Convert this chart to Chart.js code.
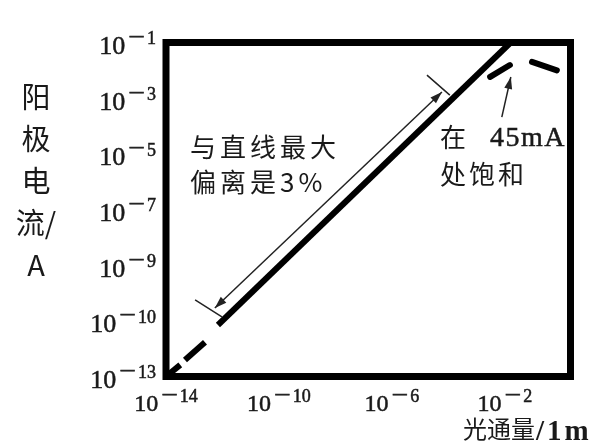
<!DOCTYPE html>
<html>
<head>
<meta charset="utf-8">
<script src="https://cdn.jsdelivr.net/npm/chart.js@4/dist/chart.umd.min.js"></script>
<style>
  html, body { margin: 0; padding: 0; background: #fff; }
  #wrap { width: 600px; height: 448px; }
</style>
</head>
<body>
<div id="wrap"><canvas id="pmtChart" width="600" height="448"></canvas></div>
<script>
// PMT response: anode current (A) vs luminous flux (lm), log-log
var linearX = [6.9e-13, 1.6e-2];
var linearY = [7.1e-12, 1e-1];

// dashed low-flux part, one sub-array per dash
var lowDashX = [[2.4e-13, 4.7e-14], [3.2e-14, 1e-14]];
var lowDashY = [[1.7e-12, 3.9e-13], [2.6e-13, 1e-13]];

// saturation dashes near 45 mA
var satDashX = [[3.0e-3, 1.5e-2], [9.1e-2, 0.69]];
var satDashY = [[5.8e-3, 1.55e-2], [2.0e-2, 1.0e-2]];

var xTickExps = [-14, -10, -6, -2];
var xTickText = ['-14', '-10', '-6', '-2'];
var yTickExps = [-13, -11, -9, -7, -5, -3, -1];
var yTickText = ['-13', '-10', '-9', '-7', '-5', '-3', '-1']; // printed as in the figure

var yTitleChars = ['阳', '极', '电', '流/', 'A'];

(function(){
  var SERIF = '"Liberation Serif", "Times New Roman", serif';
  var CJK = '"Noto Sans CJK SC", "Noto Sans", sans-serif';
  var INK = '#1a1a1a';

  function pts(xs, ys){
    return xs.map(function(x, i){ return { x: x, y: ys[i] }; });
  }

  function seg(xs, ys, cap){
    return { data: pts(xs, ys), borderColor: '#000', borderWidth: 6, pointRadius: 0, borderCapStyle: cap, fill: false, tension: 0, clip: false };
  }

  // fill + hairline stroke so the serif text is as heavy as the scan
  function ink(ctx, s, x, y){
    ctx.fillText(s, x, y);
    ctx.lineWidth = 0.5; ctx.strokeStyle = INK; ctx.strokeText(s, x, y);
  }

  // "10" with a raised exponent; x is centre or right edge, y is middle of the "10"
  function drawPow(ctx, expText, x, y, align, size){
    var neg = expText.charAt(0) === '-';
    var digits = neg ? expText.slice(1) : expText;
    var MS = 1.35; // minus is drawn wide, like the typeset one
    ctx.font = size + 'px ' + SERIF; var wb = ctx.measureText('10').width;
    ctx.font = '22px ' + SERIF; var wm = neg ? ctx.measureText('\u2212').width * MS : 0;
    ctx.font = '18px ' + SERIF; var wd = ctx.measureText(digits).width;
    var total = wb + 3 + wm + 2 + wd;
    var x0 = align === 'right' ? x - total : x - total / 2;
    var sy = y - 7;
    ctx.textAlign = 'left'; ctx.textBaseline = 'alphabetic'; ctx.fillStyle = INK;
    ctx.font = size + 'px ' + SERIF; ink(ctx, '10', x0, y + 0.33 * size);
    if (neg) {
      ctx.save();
      ctx.translate(x0 + wb + 3, sy + 0.25 * 22);
      ctx.scale(MS, 1);
      ctx.font = '22px ' + SERIF; ink(ctx, '\u2212', 0, 0);
      ctx.restore();
    }
    ctx.font = '18px ' + SERIF; ink(ctx, digits, x0 + wb + 3 + wm + 2, sy + 0.33 * 18);
  }

  function txt(ctx, s, x, y, font, spacing, base){
    ctx.font = font; ctx.letterSpacing = (spacing || 0) + 'px';
    ctx.textAlign = 'left'; ctx.textBaseline = base || 'middle'; ctx.fillStyle = INK;
    ctx.fillText(s, x, y);
    ctx.letterSpacing = '0px';
  }

  function head(ctx, fx, fy, tx, ty){
    var a = Math.atan2(ty - fy, tx - fx), L = 12, W = 4;
    ctx.beginPath();
    ctx.moveTo(tx, ty);
    ctx.lineTo(tx - L * Math.cos(a) + W * Math.sin(a), ty - L * Math.sin(a) - W * Math.cos(a));
    ctx.lineTo(tx - L * Math.cos(a) - W * Math.sin(a), ty - L * Math.sin(a) + W * Math.cos(a));
    ctx.closePath(); ctx.fill();
  }

  var decor = {
    id: 'decor',
    afterDraw: function(chart){
      var ctx = chart.ctx, ca = chart.chartArea;
      var xs = chart.scales.x, ys = chart.scales.y;
      function P(lx, ly){ return [xs.getPixelForValue(Math.pow(10, lx)), ys.getPixelForValue(Math.pow(10, ly))]; }
      ctx.save();

      // frame
      ctx.strokeStyle = '#000'; ctx.lineWidth = 7; ctx.lineJoin = 'miter';
      ctx.strokeRect(ca.left, ca.top, ca.right - ca.left, ca.bottom - ca.top);

      // tick labels
      xTickExps.forEach(function(e, i){ drawPow(ctx, xTickText[i], xs.getPixelForValue(Math.pow(10, e)), 403, 'center', 24); });
      yTickExps.forEach(function(e, i){ drawPow(ctx, yTickText[i], 156, ys.getPixelForValue(Math.pow(10, e)) + 3, 'right', 26); });

      // axis titles
      ctx.fillStyle = INK; ctx.textAlign = 'center'; ctx.textBaseline = 'middle';
      ctx.font = '29px ' + CJK;
      yTitleChars.forEach(function(c, i){ ctx.fillText(c, 36, 97 + i * 42); });
      txt(ctx, '光通量', 463, 429, '24px ' + CJK, 0);
      ctx.font = '24px ' + CJK; var w = ctx.measureText('光通量').width;
      txt(ctx, '/1m', 463 + w + 1, 440, 'bold 29px ' + SERIF, 3, 'alphabetic');

      // double arrow along the linear range, with end bars
      ctx.strokeStyle = '#222'; ctx.fillStyle = '#222'; ctx.lineWidth = 1.5;
      var a = P(-12.27, -10.54), b = P(-4.23, -2.78);
      ctx.beginPath(); ctx.moveTo(a[0], a[1]); ctx.lineTo(b[0], b[1]); ctx.stroke();
      head(ctx, b[0], b[1], a[0], a[1]); head(ctx, a[0], a[1], b[0], b[1]);
      var t1 = P(-12.97, -10.25), t2 = P(-12.02, -10.86), t3 = P(-4.76, -2.17), t4 = P(-3.95, -2.89);
      ctx.beginPath(); ctx.moveTo(t1[0], t1[1]); ctx.lineTo(t2[0], t2[1]);
      ctx.moveTo(t3[0], t3[1]); ctx.lineTo(t4[0], t4[1]); ctx.stroke();

      // arrow to the saturation point
      var c = P(-2.11, -3.68), d = P(-1.79, -2.24);
      ctx.beginPath(); ctx.moveTo(c[0], c[1]); ctx.lineTo(d[0], d[1]); ctx.stroke();
      head(ctx, c[0], c[1], d[0], d[1]);

      // annotations
      txt(ctx, '与直线最大', 190, 147, '26px ' + CJK, 4);
      txt(ctx, '偏离是3%', 190, 182, '26px ' + CJK, 4);
      txt(ctx, '在', 440, 137, '26px ' + CJK, 3);
      txt(ctx, '处饱和', 440, 174, '26px ' + CJK, 3);
      ctx.font = '28px ' + SERIF; ctx.letterSpacing = '1.5px';
      ctx.textAlign = 'left'; ctx.textBaseline = 'middle'; ctx.fillStyle = INK;
      ink(ctx, '45mA', 490, 139);
      ctx.letterSpacing = '0px';

      ctx.restore();
    }
  };

  var datasets = [seg(linearX, linearY, 'butt')];
  lowDashX.forEach(function(xs, i){ datasets.push(seg(xs, lowDashY[i], 'butt')); });
  satDashX.forEach(function(xs, i){ datasets.push(seg(xs, satDashY[i], 'round')); });

  new Chart(document.getElementById('pmtChart').getContext('2d'), {
    type: 'line',
    data: { datasets: datasets },
    options: {
      responsive: false,
      animation: false,
      layout: { padding: { left: 166, top: 42.5, right: 29.5, bottom: 71.5 } },
      plugins: { legend: { display: false }, tooltip: { enabled: false }, title: { display: false } },
      scales: {
        x: { type: 'logarithmic', min: 1e-14, max: 2.1, display: false },
        y: { type: 'logarithmic', min: 1e-13, max: 1e-1, display: false }
      }
    },
    plugins: [decor]
  });
})();
</script>
</body>
</html>
